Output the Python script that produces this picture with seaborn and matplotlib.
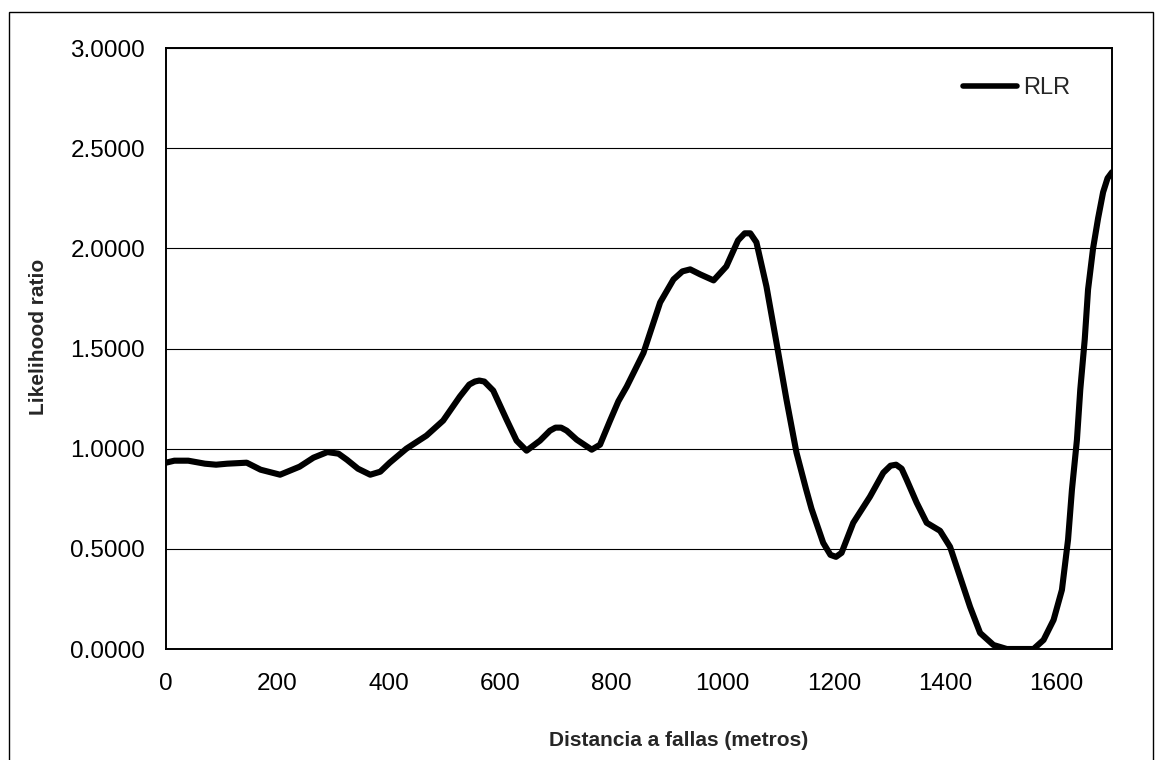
import matplotlib
matplotlib.use("Agg")
import matplotlib.pyplot as plt
from matplotlib.patches import Rectangle
import pandas as pd
import seaborn as sns

# Distance to faults (m) and the likelihood ratio
distancia = [0, 15, 40, 70, 90, 110, 145, 170, 205, 240, 265, 290, 310, 325,
             345, 367, 385, 402, 432, 468, 498, 528, 545, 555, 563, 572, 588,
             612, 630, 648, 672, 690, 700, 710, 720, 738, 765, 780, 798, 813,
             828, 858, 888, 912, 928, 942, 960, 984, 1007, 1028, 1040, 1050,
             1061, 1079, 1097, 1115, 1133, 1150, 1160, 1181, 1194, 1204, 1214,
             1235, 1265, 1289, 1302, 1312, 1322, 1331, 1349, 1367, 1391, 1409,
             1427, 1445, 1463, 1487, 1511, 1535, 1559, 1577, 1595, 1610, 1621,
             1628, 1637, 1643, 1651, 1657, 1666, 1675, 1684, 1692, 1700]
rlr = [0.93, 0.94, 0.94, 0.925, 0.92, 0.925, 0.93, 0.895, 0.87, 0.91, 0.955,
       0.983, 0.975, 0.945, 0.90, 0.87, 0.885, 0.93, 1.00, 1.065, 1.14, 1.26,
       1.32, 1.335, 1.34, 1.335, 1.29, 1.145, 1.04, 0.99, 1.04, 1.09, 1.105,
       1.105, 1.09, 1.045, 0.995, 1.02, 1.14, 1.237, 1.31, 1.478, 1.73, 1.845,
       1.885, 1.895, 1.87, 1.84, 1.91, 2.04, 2.075, 2.075, 2.03, 1.81, 1.53,
       1.245, 0.98, 0.80, 0.70, 0.53, 0.47, 0.46, 0.48, 0.63, 0.76, 0.88,
       0.915, 0.92, 0.90, 0.845, 0.73, 0.63, 0.59, 0.51, 0.36, 0.21, 0.08,
       0.02, 0.0, 0.0, 0.0, 0.045, 0.145, 0.295, 0.545, 0.795, 1.045, 1.295,
       1.545, 1.795, 2.0, 2.15, 2.28, 2.35, 2.38]

serie = "RLR"
x_ticks = [0, 200, 400, 600, 800, 1000, 1200, 1400, 1600]
y_ticks = [0.0, 0.5, 1.0, 1.5, 2.0, 2.5, 3.0]

df = pd.DataFrame({"Distancia": distancia, "Likelihood ratio": rlr, "serie": serie})

sns.set_theme(style="white")
plt.rcParams["font.family"] = ["Liberation Sans", "DejaVu Sans"]

W, H = 1156, 760
fig = plt.figure(figsize=(W / 100, H / 100), dpi=100)
fig.patch.set_facecolor("white")
ax = fig.add_axes([166 / W, 1 - 649 / H, (1112 - 166) / W, (649 - 48) / H])

# outer chart-area border
fig.patches.append(Rectangle((9 / W, -0.02), (1153 - 9) / W, 1 - 12 / H + 0.02,
                             transform=fig.transFigure, fill=False,
                             edgecolor="black", linewidth=1.0, zorder=0))

sns.lineplot(data=df, x="Distancia", y="Likelihood ratio", hue="serie",
             palette=["black"], linewidth=4.4, ax=ax, legend=True,
             solid_capstyle="round", solid_joinstyle="round", zorder=3)

ax.set_xlim(0, 1700)
ax.set_ylim(0, 3.0)
ax.set_xticks(x_ticks)
ax.set_xticklabels([str(v) for v in x_ticks])
ax.set_yticks(y_ticks)
ax.set_yticklabels([f"{v:.4f}" for v in y_ticks])

ax.yaxis.grid(True, color="black", linewidth=0.8)
ax.xaxis.grid(False)
ax.set_axisbelow(True)

for side in ["left", "bottom", "top", "right"]:
    ax.spines[side].set_visible(True)
    ax.spines[side].set_color("black")
    ax.spines[side].set_linewidth(1.4)

ax.tick_params(axis="both", which="major", direction="out", length=6,
               width=1.0, color="black", labelsize=17.5, labelcolor="black")
ax.tick_params(axis="y", pad=9)
ax.tick_params(axis="x", pad=11)

ax.set_xlabel("Distancia a fallas (metros)", fontsize=15, fontweight="bold")
ax.set_ylabel("Likelihood ratio", fontsize=15, fontweight="bold")
ax.xaxis.set_label_coords((679 - 166) / 946, (649 - 741) / 601)
ax.yaxis.set_label_coords((39 - 166) / 946, (649 - 337) / 601)
ax.xaxis.label.set_va("center")
ax.yaxis.label.set_va("center")

leg = ax.legend(loc="center left", bbox_to_anchor=(963 / W, 1 - 88 / H),
                bbox_transform=fig.transFigure, frameon=False, fontsize=17,
                handlelength=2.3, handletextpad=0.25, borderpad=0,
                borderaxespad=0)
for line in leg.get_lines():
    line.set_linewidth(4.0)

fig.savefig("out.png", dpi=100, facecolor="white")
